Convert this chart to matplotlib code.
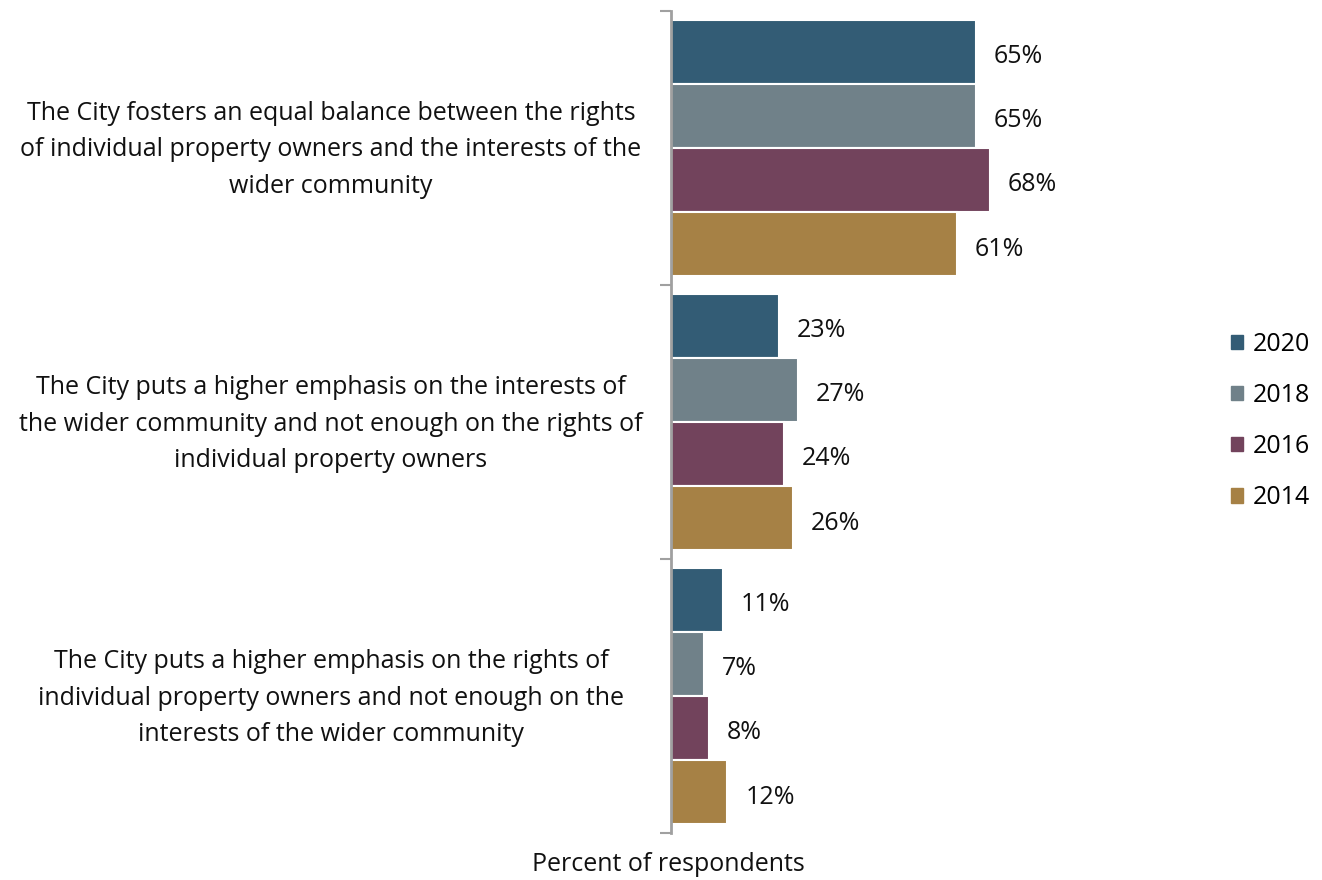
import numpy as np
import matplotlib.pyplot as plt
from matplotlib.patches import Patch

categories = [
    "The City fosters an equal balance between the rights\n"
    "of individual property owners and the interests of the\n"
    "wider community",
    "The City puts a higher emphasis on the interests of\n"
    "the wider community and not enough on the rights of\n"
    "individual property owners",
    "The City puts a higher emphasis on the rights of\n"
    "individual property owners and not enough on the\n"
    "interests of the wider community",
]
years = ["2020", "2018", "2016", "2014"]
values = {
    "2020": [65, 23, 11],
    "2018": [65, 27, 7],
    "2016": [68, 24, 8],
    "2014": [61, 26, 12],
}
colors = {
    "2020": "#335c75",
    "2018": "#708189",
    "2016": "#72435c",
    "2014": "#a68145",
}

plt.rcParams['font.family'] = ['Open Sans', 'DejaVu Sans']
FS = 18

fig = plt.figure(figsize=(13.22, 8.8), dpi=100)
ax = fig.add_axes([671 / 1322, 1 - 833 / 880, 0.35, (833 - 11) / 880])

n = len(categories)
step = 0.234
for i, year in enumerate(years):
    for g in range(n):
        yc = (n - 1 - g) + 0.5 + (1.5 - i) * step
        v = values[year][g]
        ax.barh(yc, v, height=step, color=colors[year],
                edgecolor='white', linewidth=1.5)
        ax.annotate(f"{v}%", (v, yc), xytext=(13, -3.5),
                    textcoords='offset points', ha='left', va='center',
                    fontsize=FS, color='#111111')

ax.set_xlim(0, 98.7)
ax.set_ylim(0, n)
ax.set_xticks([])
ax.set_yticks(np.arange(n + 1))
ax.set_yticklabels([])
ax.tick_params(axis='y', length=8, width=1.5, color='#a0a0a0')
for side in ['top', 'right', 'bottom']:
    ax.spines[side].set_visible(False)
ax.spines['left'].set_color('#a0a0a0')
ax.spines['left'].set_linewidth(2)

for g, cat in enumerate(categories):
    y_fig = 1 - (13 + (g + 0.5) * 274) / 880
    fig.text(331 / 1322, y_fig, cat, ha='center', va='center',
             fontsize=FS, linespacing=1.62, color='#111111')

fig.text(668 / 1322, 1 - 864 / 880, "Percent of respondents",
         ha='center', va='center', fontsize=FS, color='#111111')

handles = [Patch(color=colors[y]) for y in years]
fig.legend(handles, years, loc='center left',
           bbox_to_anchor=(1208 / 1322, 1 - 421 / 880),
           frameon=False, fontsize=FS, handlelength=0.5, handleheight=0.5,
           handletextpad=0.4, labelspacing=1.05)

fig.savefig('out.png', dpi=100)
